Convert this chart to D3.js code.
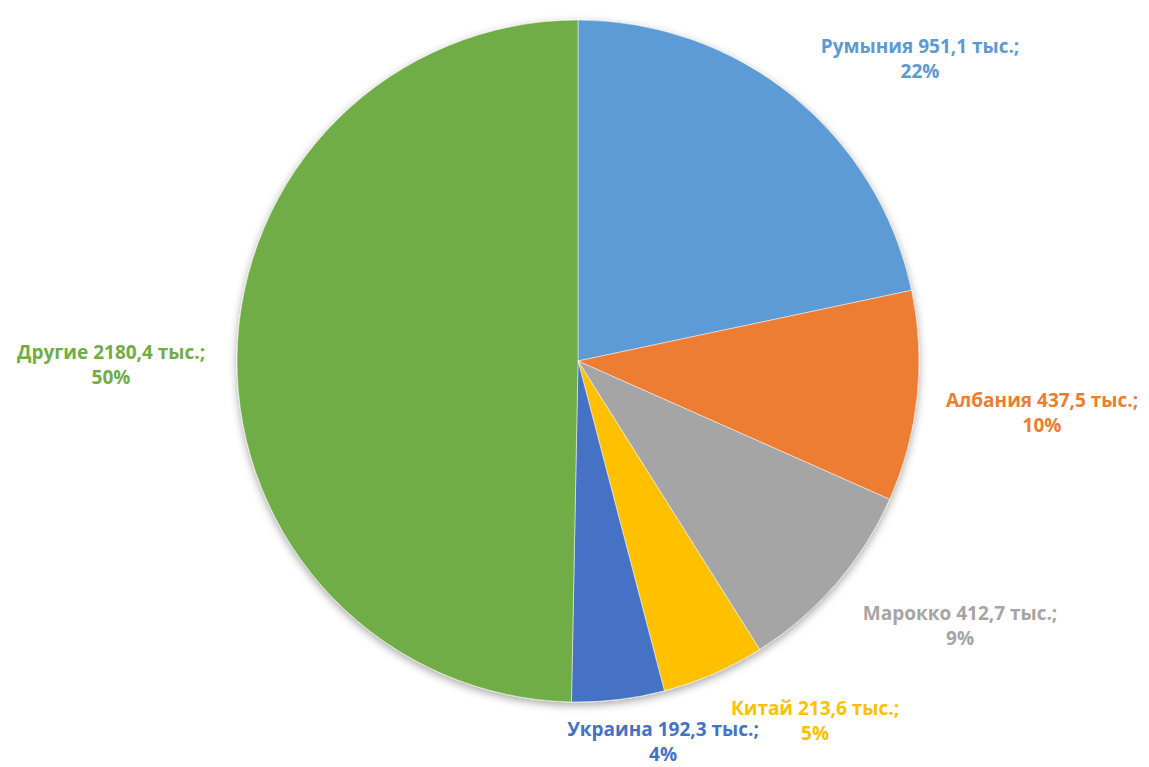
<!DOCTYPE html>
<html>
<head>
<meta charset="utf-8">
<script src="https://cdn.jsdelivr.net/npm/d3@7"></script>
<style>
  body { margin: 0; background: #fff; }
  svg { display: block; }
  .lbl { font-family: "Open Sans", "DejaVu Sans", sans-serif; font-weight: 700; font-size: 19px; }
</style>
</head>
<body>
<svg id="chart" width="1149" height="767"></svg>
<script>

// Chart data
const countries = ["Румыния", "Албания", "Марокко", "Китай", "Украина", "Другие"];
const values = [951.1, 437.5, 412.7, 213.6, 192.3, 2180.4];
const valueLabels = ["951,1", "437,5", "412,7", "213,6", "192,3", "2180,4"];
const percentLabels = ["22%", "10%", "9%", "5%", "4%", "50%"];
const colors = ["#5b9bd5", "#ed7d31", "#a5a5a5", "#ffc000", "#4472c4", "#70ad47"];

// Where each label block is centred (Excel "best fit" placement)
const labelAt = [[920, 46], [1042, 400], [960, 613], [815, 708], [663, 729], [111, 352]];

const svg = d3.select("#chart");
const cx = 578, cy = 361, radius = 341;

// Soft shadow under the pie
const defs = svg.append("defs");
const shadow = defs.append("filter").attr("id", "shadow")
    .attr("x", "-10%").attr("y", "-10%").attr("width", "120%").attr("height", "120%");
shadow.append("feDropShadow")
    .attr("dx", 0).attr("dy", 3).attr("stdDeviation", 4)
    .attr("flood-color", "#000").attr("flood-opacity", 0.35);

const pie = d3.pie().sort(null).value(d => d)(values);
const arc = d3.arc().innerRadius(0).outerRadius(radius);

const g = svg.append("g")
    .attr("transform", `translate(${cx},${cy})`)
    .attr("filter", "url(#shadow)");

g.selectAll("path")
    .data(pie)
    .enter()
    .append("path")
    .attr("d", arc)
    .attr("fill", (d, i) => colors[i])
    .attr("stroke", "#fff")
    .attr("stroke-width", 0.5);

// Data labels
const labels = svg.selectAll("text.lbl")
    .data(countries)
    .enter()
    .append("text")
    .classed("lbl", true)
    .attr("text-anchor", "middle")
    .attr("fill", (d, i) => colors[i])
    .attr("transform", (d, i) => `translate(${labelAt[i][0]},${labelAt[i][1]})`);

labels.append("tspan")
    .attr("x", 0).attr("dy", "0.35em")
    .text((d, i) => `${d} ${valueLabels[i]} тыс.;`);

labels.append("tspan")
    .attr("x", 0).attr("dy", 25)
    .text((d, i) => percentLabels[i]);

</script>
</body>
</html>
